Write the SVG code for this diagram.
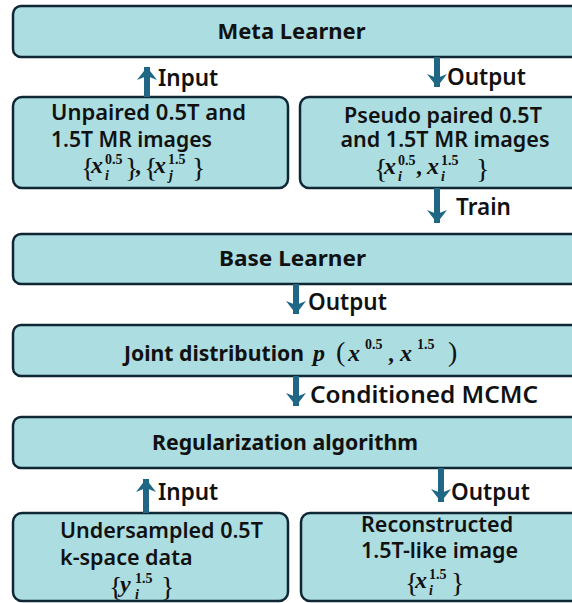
<svg xmlns="http://www.w3.org/2000/svg" width="572" height="603" viewBox="0 0 572 603">
  <defs>
    <marker id="head" viewBox="-14 -11 16 22" refX="0" refY="0" markerWidth="16" markerHeight="22" markerUnits="userSpaceOnUse" orient="auto">
      <path d="M0,0 L-13,-10 L-9,0 L-13,10 Z" fill="#1f6784"/>
    </marker>
    <style>
      .box { fill: #acdde0; stroke: #0f2735; stroke-width: 2.5; }
      .title { font-family: "Noto Sans", "Liberation Sans", sans-serif; font-weight: 700; font-size: 22px; fill: #111; }
      .txt { font-family: "Noto Sans", "Liberation Sans", sans-serif; font-weight: 600; font-size: 21.5px; fill: #111; }
      .lbl { font-family: "Noto Sans", "Liberation Sans", sans-serif; font-weight: 600; font-size: 22.5px; fill: #111; }
      .m { font-family: "Liberation Serif", "DejaVu Serif", serif; fill: #111; }
      .mv { font-style: italic; font-weight: 700; font-size: 24px; }
      .ms { font-weight: 700; font-size: 14px; }
      .mi { font-style: italic; font-weight: 700; font-size: 14px; }
      .br { font-size: 28px; }
      .arrow { stroke: #1f6784; stroke-width: 6; fill: none; marker-end: url(#head); }
    </style>
  </defs>

  <!-- Meta learner -->
  <g id="meta-learner">
    <rect class="box" x="13" y="6" width="580" height="51" rx="8"/>
    <text class="title" x="291.5" y="39" text-anchor="middle">Meta Learner</text>
  </g>

  <!-- Unpaired input images -->
  <g id="unpaired-images">
    <rect class="box" x="13" y="97" width="275" height="91" rx="9"/>
    <text class="txt" x="51" y="120" textLength="195" lengthAdjust="spacingAndGlyphs">Unpaired 0.5T and</text>
    <text class="txt" x="51" y="147" textLength="161" lengthAdjust="spacingAndGlyphs">1.5T MR images</text>
    <text class="m">
      <tspan class="br" x="81" y="177">{</tspan>
      <tspan class="mv" x="91" y="173">x</tspan>
      <tspan class="ms" x="105" y="164">0.5</tspan>
      <tspan class="mi" x="105" y="180">i</tspan>
      <tspan class="br" x="125" y="177">}</tspan>
      <tspan class="mv" x="136" y="173">,</tspan>
      <tspan class="br" x="144" y="177">{</tspan>
      <tspan class="mv" x="154" y="173">x</tspan>
      <tspan class="ms" x="168" y="164">1.5</tspan>
      <tspan class="mi" x="169" y="180">j</tspan>
      <tspan class="br" x="192" y="177">}</tspan>
    </text>
  </g>

  <!-- Pseudo paired images -->
  <g id="pseudo-paired">
    <rect class="box" x="300" y="97" width="290" height="91" rx="9"/>
    <text class="txt" x="443" y="123" text-anchor="middle">Pseudo paired 0.5T</text>
    <text class="txt" x="445" y="147" text-anchor="middle">and 1.5T MR images</text>
    <text class="m">
      <tspan class="br" x="374" y="178">{</tspan>
      <tspan class="mv" x="384" y="174">x</tspan>
      <tspan class="ms" x="398" y="165">0.5</tspan>
      <tspan class="mi" x="398" y="181">i</tspan>
      <tspan class="mv" x="417" y="174">,</tspan>
      <tspan class="mv" x="427" y="174">x</tspan>
      <tspan class="ms" x="441" y="165">1.5</tspan>
      <tspan class="mi" x="441" y="181">i</tspan>
      <tspan class="br" x="476" y="178">}</tspan>
    </text>
  </g>

  <!-- Base learner -->
  <g id="base-learner">
    <rect class="box" x="13" y="234" width="580" height="50" rx="8"/>
    <text class="title" x="219" y="266" textLength="147" lengthAdjust="spacingAndGlyphs">Base Learner</text>
  </g>

  <!-- Joint distribution -->
  <g id="joint-distribution">
    <rect class="box" x="13" y="325" width="580" height="51" rx="8"/>
    <text class="title" x="124" y="361" textLength="180" lengthAdjust="spacingAndGlyphs">Joint distribution</text>
    <text class="m">
      <tspan class="mv" x="313" y="361" font-size="29">p</tspan>
      <tspan x="336" y="361" font-size="28">(</tspan>
      <tspan class="mv" x="348" y="361" font-size="29">x</tspan>
      <tspan class="ms" x="365" y="349" font-size="17">0.5</tspan>
      <tspan class="mv" x="389" y="361" font-size="29">,</tspan>
      <tspan class="mv" x="400" y="361" font-size="29">x</tspan>
      <tspan class="ms" x="417" y="349" font-size="17">1.5</tspan>
      <tspan x="448" y="361" font-size="28">)</tspan>
    </text>
  </g>

  <!-- Regularization algorithm -->
  <g id="regularization">
    <rect class="box" x="13" y="417" width="580" height="51" rx="8"/>
    <text class="title" x="152" y="450" textLength="266" lengthAdjust="spacingAndGlyphs">Regularization algorithm</text>
  </g>

  <!-- Undersampled k-space input -->
  <g id="kspace-data">
    <rect class="box" x="13" y="513" width="275" height="88" rx="9"/>
    <text class="txt" x="60" y="538">Undersampled 0.5T</text>
    <text class="txt" x="60" y="565">k-space data</text>
    <text class="m">
      <tspan class="br" x="109" y="596">{</tspan>
      <tspan class="mv" x="120" y="592">y</tspan>
      <tspan class="ms" x="135" y="583">1.5</tspan>
      <tspan class="mi" x="135" y="599">i</tspan>
      <tspan class="br" x="161" y="596">}</tspan>
    </text>
  </g>

  <!-- Reconstructed output image -->
  <g id="reconstructed">
    <rect class="box" x="301" y="513" width="290" height="88" rx="9"/>
    <text class="txt" x="361" y="532">Reconstructed</text>
    <text class="txt" x="361" y="558">1.5T-like image</text>
    <text class="m">
      <tspan class="br" x="405" y="592">{</tspan>
      <tspan class="mv" x="415" y="588">x</tspan>
      <tspan class="ms" x="429" y="579">1.5</tspan>
      <tspan class="mi" x="429" y="595">i</tspan>
      <tspan class="br" x="451" y="592">}</tspan>
    </text>
  </g>

  <!-- Connectors -->
  <g id="connectors">
    <line class="arrow" x1="147" y1="97" x2="147" y2="67"/>
    <line class="arrow" x1="437" y1="57" x2="437" y2="87"/>
    <line class="arrow" x1="437" y1="188" x2="437" y2="223"/>
    <line class="arrow" x1="296" y1="284" x2="296" y2="314"/>
    <line class="arrow" x1="296" y1="376" x2="296" y2="406"/>
    <line class="arrow" x1="146" y1="513" x2="146" y2="479"/>
    <line class="arrow" x1="441" y1="468" x2="441" y2="502"/>
    <text class="lbl" x="158" y="86">Input</text>
    <text class="lbl" x="447" y="85">Output</text>
    <text class="lbl" x="456" y="215">Train</text>
    <text class="lbl" x="308" y="310">Output</text>
    <text class="lbl" x="310" y="403" textLength="228" lengthAdjust="spacingAndGlyphs">Conditioned MCMC</text>
    <text class="lbl" x="158" y="500">Input</text>
    <text class="lbl" x="451" y="500">Output</text>
  </g>
</svg>
